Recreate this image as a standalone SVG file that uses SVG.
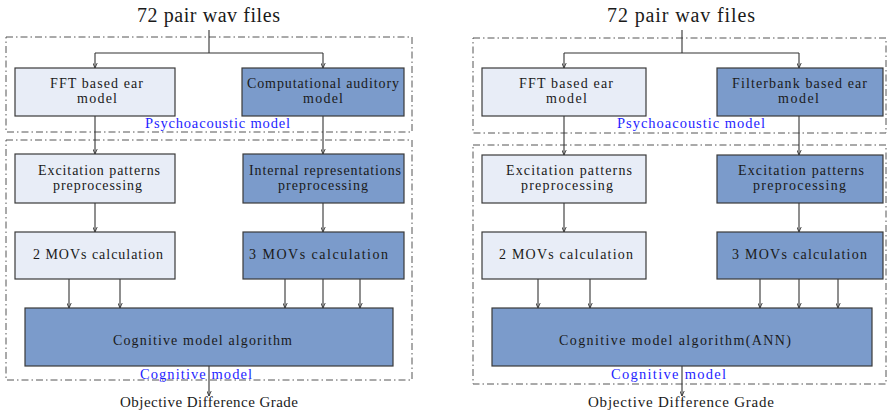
<svg xmlns="http://www.w3.org/2000/svg" width="887" height="413" viewBox="0 0 887 413">
<style>
text{font-family:"Liberation Serif","Times New Roman",serif;fill:#1a1a1a;text-anchor:middle}
.t{font-size:20px}
.b{font-size:14px}
.o{font-size:15px}
.blue{font-size:14.5px;fill:#1f1fff}
.light{fill:#e8edf7;stroke:#3a3a3a;stroke-width:1.2}
.dark{fill:#7b9bcb;stroke:#3a3a3a;stroke-width:1.2}
.dash{fill:none;stroke:#555;stroke-width:1;stroke-dasharray:7,3,1.5,3}
.c{fill:none;stroke:#333;stroke-width:1.1}
.ca{fill:none;stroke:#333;stroke-width:1.1;marker-end:url(#ah)}
</style>
<defs>
<marker id="ah" viewBox="0 0 8 8" refX="8" refY="4" markerWidth="5" markerHeight="5" orient="auto" markerUnits="userSpaceOnUse">
<path d="M0,0.5 L8,4 L0,7.5" fill="none" stroke="#333" stroke-width="1.4"/>
</marker>
</defs>

<g id="frames">
<rect class="dash" x="6" y="37" width="406" height="95"/>
<rect class="dash" x="6" y="140" width="406" height="240"/>
<rect class="dash" x="473" y="38" width="413" height="95"/>
<rect class="dash" x="473" y="145" width="413" height="239"/>
</g>

<g id="connectors">
<path class="c" d="M209,30 V53 M95,53 H323"/>
<path class="ca" d="M95,53 V68"/>
<path class="ca" d="M323,53 V68"/>
<path class="ca" d="M95,116 V154"/>
<path class="ca" d="M323,116 V154"/>
<path class="ca" d="M95,203 V232"/>
<path class="ca" d="M323,203 V232"/>
<path class="ca" d="M69,279 V308"/>
<path class="ca" d="M120,279 V308"/>
<path class="ca" d="M285,279 V308"/>
<path class="ca" d="M323,279 V308"/>
<path class="ca" d="M360,279 V308"/>
<path class="ca" d="M209,366 V396"/>
<path class="c" d="M682,30 V53 M564,53 H799"/>
<path class="ca" d="M564,53 V68"/>
<path class="ca" d="M799,53 V68"/>
<path class="ca" d="M564,116 V155"/>
<path class="ca" d="M799,116 V155"/>
<path class="ca" d="M564,203 V232"/>
<path class="ca" d="M799,203 V232"/>
<path class="ca" d="M538,279 V308"/>
<path class="ca" d="M590,279 V308"/>
<path class="ca" d="M760,279 V308"/>
<path class="ca" d="M799,279 V308"/>
<path class="ca" d="M838,279 V308"/>
<path class="ca" d="M682,366 V396"/>
</g>

<g id="labels">
<text class="t" x="208.5" y="22" textLength="143" lengthAdjust="spacing">72 pair wav files</text>
<text class="blue" x="217.5" y="128" textLength="145" lengthAdjust="spacing">Psychoacoustic model</text>
<text class="blue" x="196" y="379" textLength="112" lengthAdjust="spacing">Cognitive  model</text>
<text class="o" x="209" y="407" textLength="178" lengthAdjust="spacing">Objective Difference Grade</text>
<text class="t" x="681" y="22" textLength="148" lengthAdjust="spacing">72 pair wav files</text>
<text class="blue" x="691" y="128" textLength="148" lengthAdjust="spacing">Psychoacoustic model</text>
<text class="blue" x="668.5" y="379" textLength="115" lengthAdjust="spacing">Cognitive  model</text>
<text class="o" x="681" y="407" textLength="186" lengthAdjust="spacing">Objective Difference Grade</text>
</g>

<g id="L-fft">
<rect class="light" x="15" y="68" width="160" height="48"/>
<text class="b" x="96.5" y="88" textLength="93" lengthAdjust="spacing">FFT based ear</text>
<text class="b" x="97" y="103" textLength="40" lengthAdjust="spacing">model</text>
</g>
<g id="L-cam">
<rect class="dark" x="242" y="68" width="162" height="48"/>
<text class="b" x="323" y="88" textLength="152" lengthAdjust="spacing">Computational auditory</text>
<text class="b" x="323" y="103" textLength="40" lengthAdjust="spacing">model</text>
</g>
<g id="L-exc">
<rect class="light" x="15" y="154" width="160" height="49"/>
<text class="b" x="99" y="175" textLength="122" lengthAdjust="spacing">Excitation patterns</text>
<text class="b" x="97.5" y="190" textLength="89" lengthAdjust="spacing">preprocessing</text>
</g>
<g id="L-int">
<rect class="dark" x="243" y="154" width="161" height="49"/>
<text class="b" x="325" y="175" textLength="152" lengthAdjust="spacing">Internal representations</text>
<text class="b" x="323" y="190" textLength="90" lengthAdjust="spacing">preprocessing</text>
</g>
<g id="L-mov2">
<rect class="light" x="15" y="232" width="160" height="47"/>
<text class="b" x="98" y="259" textLength="130" lengthAdjust="spacing">2 MOVs calculation</text>
</g>
<g id="L-mov3">
<rect class="dark" x="243" y="232" width="161" height="47"/>
<text class="b" x="318.5" y="259" textLength="139" lengthAdjust="spacing">3 MOVs calculation</text>
</g>
<g id="L-cog">
<rect class="dark" x="25" y="308" width="368" height="58"/>
<text class="b" x="202.5" y="345" textLength="179" lengthAdjust="spacing">Cognitive  model algorithm</text>
</g>

<g id="R-fft">
<rect class="light" x="482" y="68" width="164" height="48"/>
<text class="b" x="566" y="88" textLength="94" lengthAdjust="spacing">FFT based ear</text>
<text class="b" x="566.5" y="103" textLength="41" lengthAdjust="spacing">model</text>
</g>
<g id="R-fb">
<rect class="dark" x="717" y="68" width="166" height="48"/>
<text class="b" x="799.5" y="88" textLength="135" lengthAdjust="spacing">Filterbank based ear</text>
<text class="b" x="798.5" y="103" textLength="41" lengthAdjust="spacing">model</text>
</g>
<g id="R-exc1">
<rect class="light" x="482" y="155" width="164" height="48"/>
<text class="b" x="569" y="175" textLength="126" lengthAdjust="spacing">Excitation patterns</text>
<text class="b" x="567" y="190" textLength="92" lengthAdjust="spacing">preprocessing</text>
</g>
<g id="R-exc2">
<rect class="dark" x="717" y="155" width="166" height="48"/>
<text class="b" x="801" y="175" textLength="126" lengthAdjust="spacing">Excitation patterns</text>
<text class="b" x="799.5" y="190" textLength="93" lengthAdjust="spacing">preprocessing</text>
</g>
<g id="R-mov2">
<rect class="light" x="482" y="232" width="164" height="47"/>
<text class="b" x="566" y="259" textLength="134" lengthAdjust="spacing">2 MOVs calculation</text>
</g>
<g id="R-mov3">
<rect class="dark" x="717" y="232" width="166" height="47"/>
<text class="b" x="799.5" y="259" textLength="135" lengthAdjust="spacing">3 MOVs calculation</text>
</g>
<g id="R-cog">
<rect class="dark" x="492" y="308" width="380" height="58"/>
<text class="b" x="675" y="345" textLength="232" lengthAdjust="spacing">Cognitive  model algorithm(ANN)</text>
</g>
</svg>
